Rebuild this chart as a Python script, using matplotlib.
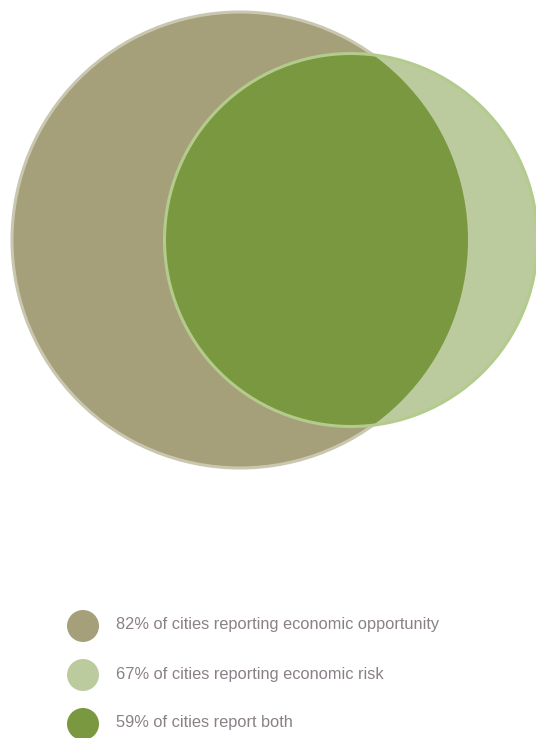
import matplotlib.pyplot as plt
from matplotlib.patches import Circle

# Datos del diagrama
etiquetas = ['82% of cities reporting economic opportunity',
             '67% of cities reporting economic risk',
             '59% of cities report both']
porcentajes = [82, 67, 59]
colores = ['#a5a07a', '#bccb9e', '#7a983f']

# Figura en coordenadas de pixel (536x738)
fig = plt.figure(figsize=(5.36, 7.38), dpi=100)
ax = fig.add_axes([0, 0, 1, 1])
ax.set_xlim(0, 536)
ax.set_ylim(738, 0)
ax.set_aspect('equal')
ax.axis('off')

# Circulo grande (oportunidad) y circulo pequeno (riesgo)
grande = Circle((240, 240), 228, facecolor=colores[0], edgecolor='#cac7b1', lw=2.2, zorder=1)
pequeno = Circle((351, 240), 186.5, facecolor=colores[1], edgecolor='none', zorder=2)
ax.add_patch(grande)
ax.add_patch(pequeno)

# Interseccion: circulo pequeno en verde oscuro recortado por el grande
clip = Circle((240, 240), 228, transform=ax.transData)
ambos = Circle((351, 240), 186.5, facecolor=colores[2], edgecolor='none', zorder=3)
ax.add_patch(ambos)
ambos.set_clip_path(clip)

# Borde del circulo pequeno encima de todo
borde = Circle((351, 240), 186.5, facecolor='none', edgecolor='#b3cb8c', lw=2.2, zorder=4)
ax.add_patch(borde)

# Leyenda
for i, (txt, col) in enumerate(zip(etiquetas, colores)):
    y = 626 + i * 49
    ax.add_patch(Circle((83, y), 16, facecolor=col, edgecolor='none'))
    ax.text(115.5, y - 1, txt, fontsize=11.8, color='#8a8088', va='center', ha='left',
            family='Liberation Sans')

fig.savefig('out.png', dpi=100)
